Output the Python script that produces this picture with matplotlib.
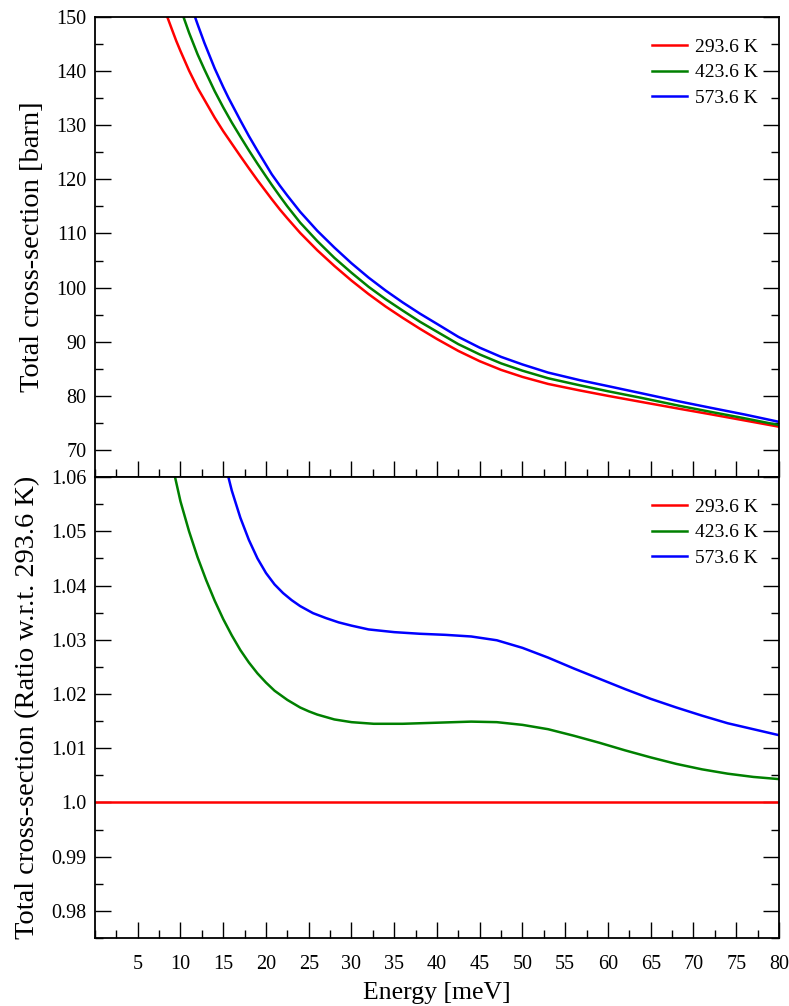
import numpy as np
import matplotlib.pyplot as plt
from matplotlib.ticker import MultipleLocator

plt.rcParams['font.family'] = ['Liberation Serif', 'DejaVu Serif']

temps = ['293.6 K', '423.6 K', '573.6 K']
colores = ['#ff0000', '#008000', '#0000ff']

# Seccion eficaz total (barn) frente a la energia (meV)
E_293 = np.array([8.46, 9.0, 9.5, 10.0, 11.0, 12.0, 12.8, 14.0, 15.0, 16.0, 17.0, 18.0, 19.0, 20.0,
                  20.67, 21.64, 22.5, 24.0, 26.0, 28.0, 30.0, 32.0, 34.0, 36.0, 38.0, 40.0, 42.5,
                  45.0, 47.5, 50.0, 53.0, 56.7, 60.0, 64.0, 68.4, 72.0, 76.0, 80.0])
xs_293 = np.array([150.0, 147.7, 145.6, 143.7, 140.1, 136.9, 134.7, 131.4, 128.9, 126.6, 124.3, 122.05,
                   119.85, 117.75, 116.35, 114.4, 112.8, 110.1, 106.9, 104.0, 101.3, 98.8, 96.5, 94.4,
                   92.4, 90.5, 88.3, 86.4, 84.8, 83.5, 82.2, 81.0, 80.0, 78.85, 77.6, 76.6, 75.45, 74.3])

E_423 = np.array([10.35, 11.0, 12.0, 12.8, 14.0, 15.0, 16.0, 17.0, 18.0, 19.0, 20.0,
                  20.67, 21.64, 22.5, 24.0, 26.0, 28.0, 30.0, 32.0, 34.0, 36.0, 38.0, 40.0, 42.5,
                  45.0, 47.5, 50.0, 53.0, 56.7, 60.0, 64.0, 68.4, 72.0, 76.0, 80.0])
xs_423 = np.array([150.0, 147.1, 143.1, 140.3, 136.3, 133.3, 130.5, 127.9, 125.35, 122.9, 120.55,
                   119.0, 116.85, 115.0, 112.0, 108.6, 105.5, 102.75, 100.15, 97.85, 95.75, 93.7, 91.85,
                   89.55, 87.65, 86.0, 84.65, 83.25, 81.95, 80.85, 79.6, 78.15, 77.05, 75.85, 74.6])

E_573 = np.array([11.7, 12.0, 12.8, 14.0, 15.0, 15.6, 16.0, 17.0, 18.0, 19.0, 20.0,
                  20.67, 21.64, 22.5, 24.0, 26.0, 28.0, 30.0, 32.0, 34.0, 36.0, 38.0, 40.0, 42.5,
                  45.0, 47.5, 50.0, 53.0, 56.7, 60.0, 64.0, 68.4, 72.0, 76.0, 80.0])
xs_573 = np.array([150.0, 148.65, 145.2, 140.5, 137.05, 135.1, 133.9, 130.9, 128.0, 125.3, 122.7,
                   120.95, 118.8, 117.0, 114.0, 110.5, 107.4, 104.5, 101.85, 99.45, 97.25, 95.2, 93.3,
                   90.9, 88.9, 87.2, 85.8, 84.3, 82.9, 81.8, 80.45, 78.95, 77.8, 76.55, 75.2])

# Cociente respecto a 293.6 K
Er_293 = np.array([0.0, 80.0])
ratio_293 = np.array([1.0, 1.0])

Er_423 = np.array([9.36, 10.0, 11.0, 12.0, 13.0, 14.0, 15.0, 16.0, 17.0, 18.0, 19.0, 20.0, 21.0,
                   22.5, 24.0, 25.0, 26.0, 28.0, 30.0, 32.6, 36.0, 40.0, 44.0, 47.0, 50.0, 53.0, 56.0,
                   59.0, 62.0, 65.0, 68.0, 71.0, 74.0, 77.0, 80.0])
ratio_423 = np.array([1.0600, 1.0555, 1.0500, 1.0452, 1.0410, 1.0372, 1.0338, 1.0308, 1.0281, 1.0258,
                      1.0238, 1.0221, 1.0206, 1.0189, 1.0175, 1.0168, 1.0162, 1.0153, 1.0148, 1.0145,
                      1.0145, 1.0147, 1.0149, 1.0148, 1.0143, 1.0135, 1.0123, 1.0110, 1.0096, 1.0083,
                      1.0071, 1.0061, 1.0053, 1.0047, 1.0043])

Er_573 = np.array([15.6, 16.0, 17.0, 18.0, 19.0, 20.0, 21.0, 22.0, 23.0, 24.0, 25.5, 27.0, 28.5,
                   30.0, 32.0, 35.0, 38.0, 41.0, 44.0, 47.0, 50.0, 53.0, 56.0, 59.0, 62.0, 65.0,
                   68.0, 71.0, 74.0, 77.0, 80.0])
ratio_573 = np.array([1.0600, 1.0575, 1.0525, 1.0484, 1.0450, 1.0423, 1.0402, 1.0386, 1.0373, 1.0362,
                      1.0349, 1.0340, 1.0332, 1.0326, 1.0319, 1.0314, 1.0311, 1.0309, 1.0306, 1.0299,
                      1.0285, 1.0267, 1.0247, 1.0228, 1.0209, 1.0191, 1.0175, 1.0160, 1.0146, 1.0135,
                      1.0124])

xticks = list(range(5, 81, 5))
yticks_top = list(range(70, 151, 10))
yticks_bot = [0.98, 0.99, 1.0, 1.01, 1.02, 1.03, 1.04, 1.05, 1.06]
ylabels_bot = ['0.98', '0.99', '1.0', '1.01', '1.02', '1.03', '1.04', '1.05', '1.06']


def ejes(ax):
    for s in ax.spines.values():
        s.set_linewidth(1.3)
    ax.set_xlim(0, 80)
    ax.set_xticks(xticks)
    ax.xaxis.set_minor_locator(MultipleLocator(2.5))
    ax.tick_params(which='both', direction='in', top=False, right=True, width=1.0)
    ax.tick_params(which='major', length=11.5, labelsize=14.5, pad=6)
    ax.tick_params(which='minor', length=6)
    ax.tick_params(axis='x', which='major', pad=12)


def leyenda(ax):
    ax.legend(loc='upper right', frameon=False, fontsize=14, handlelength=1.8,
              handletextpad=0.4, labelspacing=0.4, borderaxespad=0.7)


fig = plt.figure(figsize=(7.89, 10.06), dpi=100)
ax1 = fig.add_axes([0.1204, 0.5258, 0.8669, 0.4573])
ax2 = fig.add_axes([0.1204, 0.0676, 0.8669, 0.4582])

# Panel superior: seccion eficaz total
for E, xs, t, c in zip([E_293, E_423, E_573], [xs_293, xs_423, xs_573], temps, colores):
    ax1.plot(E, xs, color=c, lw=1.8, label=t)
ejes(ax1)
ax1.set_ylim(65, 150)
ax1.set_yticks(yticks_top)
ax1.yaxis.set_minor_locator(MultipleLocator(5))
ax1.tick_params(labelbottom=False)
ax1.set_ylabel('Total cross-section [barn]', fontsize=20.5, labelpad=8)
leyenda(ax1)

# Panel inferior: cociente
for E, r, t, c in zip([Er_293, Er_423, Er_573], [ratio_293, ratio_423, ratio_573], temps, colores):
    ax2.plot(E, r, color=c, lw=1.8, label=t)
ejes(ax2)
ax2.set_ylim(0.975, 1.06)
ax2.set_yticks(yticks_bot)
ax2.set_yticklabels(ylabels_bot)
ax2.yaxis.set_minor_locator(MultipleLocator(0.005))
ax2.set_xlabel('Energy [meV]', fontsize=18.5, labelpad=6)
ax2.set_ylabel('Total cross-section (Ratio w.r.t. 293.6 K)', fontsize=20.5, labelpad=8)
leyenda(ax2)

fig.savefig('out.png', dpi=100)
